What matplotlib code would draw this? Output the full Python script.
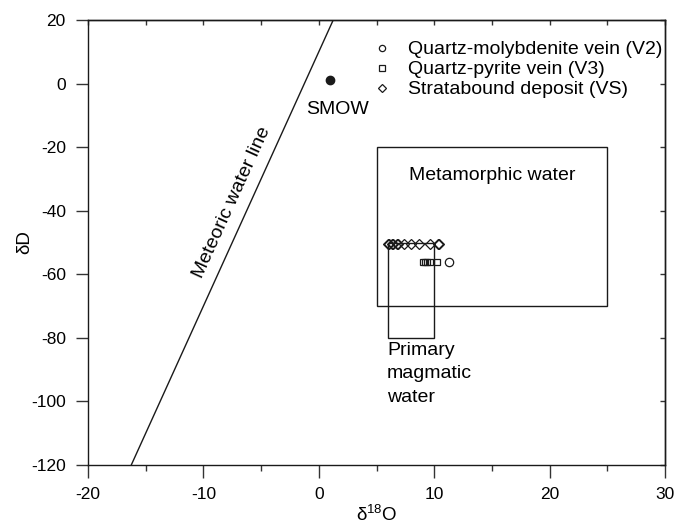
import matplotlib
matplotlib.use('Agg')
import matplotlib.pyplot as plt
import numpy as np
from matplotlib.patches import Rectangle
from matplotlib.ticker import MultipleLocator

plt.rcParams['font.family'] = ['Liberation Sans', 'DejaVu Sans']
plt.rcParams['font.size'] = 14
plt.rcParams['axes.unicode_minus'] = False
plt.rcParams['mathtext.default'] = 'regular'

# isotope data (d18O, dD)
v2_x = [11.3]
v2_y = [-56]
v3_x = [9.0, 9.2, 9.4, 9.6, 10.2]
v3_y = [-56, -56, -56, -56, -56]
vs_x = [6.0, 6.1, 6.3, 6.4, 6.8, 6.9, 7.4, 8.0, 8.7, 9.6, 10.3, 10.4]
vs_y = [-50.5] * 12

smow = (1, 1)

# fields: (x0, y0, width, height)
metamorphic = (5, -70, 20, 50)
magmatic = (6, -80, 4, 30)

xlim = (-20, 30)
ylim = (-120, 20)
xticks = [-20, -10, 0, 10, 20, 30]
yticks = [-120, -100, -80, -60, -40, -20, 0, 20]

ink = '#1a1a1a'

fig = plt.figure(figsize=(6.79, 5.27), dpi=100)
ax = fig.add_axes([88/679, 62/527, 577/679, 445/527])

# meteoric water line dD = 8*d18O + 10
mx = np.array([-16.25, 1.25])
ax.plot(mx, 8*mx + 10, color=ink, lw=1)

ax.add_patch(Rectangle(metamorphic[:2], metamorphic[2], metamorphic[3],
                       fill=False, ec=ink, lw=1))
ax.add_patch(Rectangle(magmatic[:2], magmatic[2], magmatic[3],
                       fill=False, ec=ink, lw=1))

ax.plot(*smow, 'o', color=ink, ms=6)
ax.text(smow[0] + 0.6, smow[1] - 6.5, 'SMOW', ha='center', va='top')

ax.plot(v2_x, v2_y, 'o', mfc='none', mec=ink, ms=6, mew=0.9,
        label='Quartz-molybdenite vein (V2)')
ax.plot(v3_x, v3_y, 's', mfc='none', mec=ink, ms=5, mew=0.9,
        label='Quartz-pyrite vein (V3)')
ax.plot(vs_x, vs_y, 'D', mfc='none', mec=ink, ms=5.5, mew=0.9,
        label='Stratabound deposit (VS)')

ax.text(-7.5, -37.5, 'Meteoric water line', rotation=65.5,
        ha='center', va='center')
ax.text(15, -29, 'Metamorphic water', ha='center', va='center')
ax.text(5.9, -81.3, 'Primary\nmagmatic\nwater', ha='left', va='top',
        linespacing=1.5)

ax.legend(loc='upper right', bbox_to_anchor=(1.012, 0.975), frameon=False,
          handletextpad=0.75, borderaxespad=0.1, labelspacing=0.12,
          handlelength=1.2, markerscale=0.75)

ax.set_xlim(*xlim)
ax.set_ylim(*ylim)
ax.set_xticks(xticks)
ax.set_yticks(yticks)
ax.xaxis.set_minor_locator(MultipleLocator(5))
ax.tick_params(which='major', direction='out', length=9, width=1,
               color='#333333', labelsize=12.5, pad=7)
ax.tick_params(which='minor', direction='out', length=4.5, width=1,
               color='#333333')

# inward ticks on the top and right frame
top = ax.secondary_xaxis('top')
top.set_xticks(xticks)
top.xaxis.set_minor_locator(MultipleLocator(5))
top.tick_params(which='both', direction='in', length=3.5, width=1,
                color='#333333', labeltop=False)
right = ax.secondary_yaxis('right')
right.set_yticks(yticks)
right.tick_params(direction='in', length=3.5, width=1,
                  color='#333333', labelright=False)

for a in (ax, top, right):
    for sp in a.spines.values():
        sp.set_color(ink)
        sp.set_linewidth(1)

ax.set_xlabel('δ$^{18}$O', fontsize=13.5)
ax.xaxis.set_label_coords(0.5, -0.09)
ax.set_ylabel('δD', fontsize=13.5)
ax.yaxis.set_label_coords(-0.095, 0.5)

fig.savefig('out.png', dpi=100)
